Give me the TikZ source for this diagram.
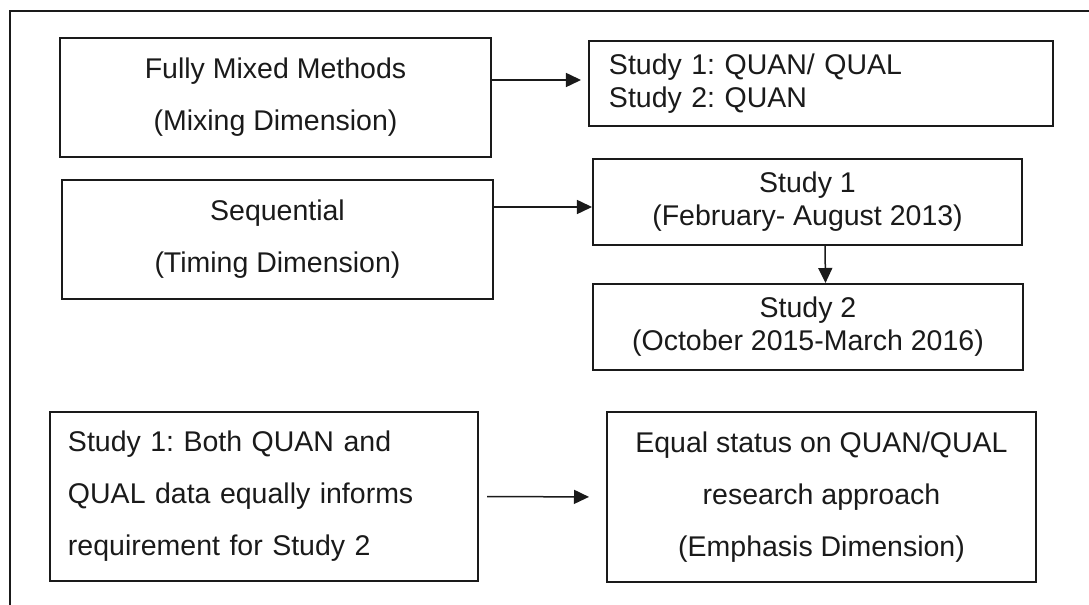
\documentclass[tikz,border=0pt]{standalone}
\usepackage{fontspec}
\setmainfont{Liberation Sans}
\usepackage{tikz}
\usetikzlibrary{
  arrows.meta,
  positioning,
  calc
}
\definecolor{mmInk}{HTML}{1A1A1A}
\tikzset{
  mmbox/.style={
    draw=mmInk, line width=0.8pt, inner sep=0pt, align=center, text=mmInk
  },
  widebox/.style={mmbox, font=\fontsize{11.4}{20.8}\selectfont},
  tightbox/.style={mmbox, font=\fontsize{11.4}{13.2}\selectfont},
  flow/.style={-{Triangle[length=6pt, width=5.6pt]}, line width=0.6pt, mmInk},
  outerframe/.style={draw=mmInk, line width=0.7pt}
}
\frenchspacing

\begin{document}
\begin{tikzpicture}[x=0.4pt, y=-0.4pt]
  \useasboundingbox (0,0) rectangle (1089,605);
  \clip (0,0) rectangle (1089,605);
  \draw[outerframe] (10,11) rectangle (1120,640);
  % left column: the three dimensions
  \node[widebox, minimum width=172.4pt, minimum height=47.6pt] (mix) at (275.5,97.5)
    {Fully Mixed Methods\\(Mixing Dimension)};
  \node[widebox, minimum width=172.4pt, minimum height=47.6pt] (seq) at (277.5,239.5)
    {Sequential\\(Timing Dimension)};
  \node[widebox, align=left, text width=156.8pt, inner xsep=7.2pt, minimum height=67.6pt] (inform) at (264,496.5)
    {Study 1: Both QUAN and\\QUAL data equally informs\\requirement for Study 2};
  % right column
  \node[tightbox, align=left, text width=169.6pt, inner xsep=8pt, minimum height=34pt] (mixres) at (821,83.5)
    {Study 1: QUAN/ QUAL\\Study 2: QUAN};
  \node[tightbox, minimum width=171.6pt, minimum height=34.4pt] (st1) at (807.5,202)
    {Study 1\\(February- August 2013)};
  \node[tightbox, minimum width=172pt, minimum height=34.4pt] (st2) at (808,327)
    {Study 2\\(October 2015-March 2016)};
  \node[widebox, minimum width=171.6pt, minimum height=68pt] (emph) at (821.5,497)
    {Equal status on QUAN/QUAL\\research approach\\(Emphasis Dimension)};
  \draw[flow, shorten >=2.8pt] ([yshift=1.4pt]mix.east |- mixres.west) -- ([yshift=1.4pt]mixres.west);
  \draw[flow] ([yshift=-2pt]seq.east |- st1.west) -- ([yshift=-2pt]st1.west);
  \draw[flow] ([xshift=7pt]st1.south) -- ([xshift=7pt]st2.north);
  \draw[flow, shorten <=3.2pt, shorten >=6.8pt] (inform.east) -- (emph.west);
\end{tikzpicture}
\end{document}
